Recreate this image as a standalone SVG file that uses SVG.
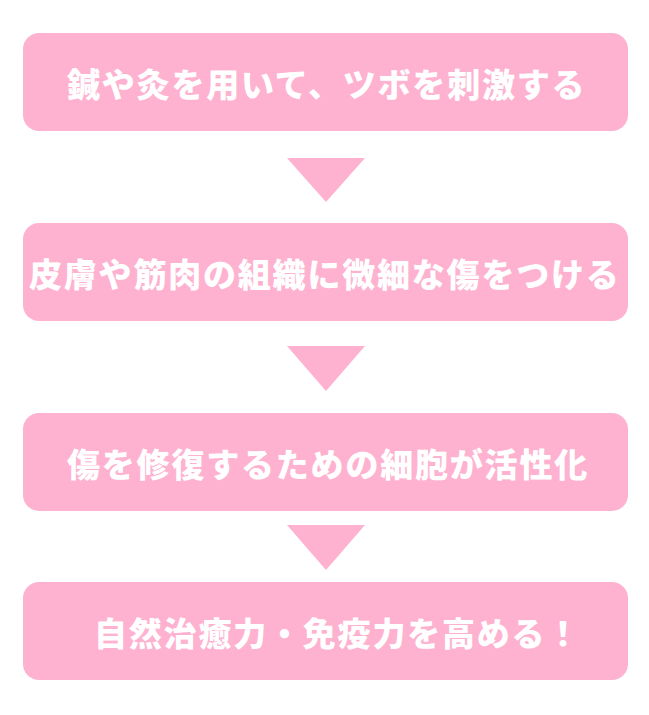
<svg xmlns="http://www.w3.org/2000/svg" width="649" height="715" viewBox="0 0 649 715">
<style>
.box{fill:#feb2d0}
.arrow{fill:#feb2d0}
.t{fill:#ffffff;font-family:"Noto Sans CJK JP","Noto Sans CJK SC",sans-serif;font-weight:900;font-size:33px;letter-spacing:1.8px;dominant-baseline:central}
</style>
<rect width="649" height="715" fill="#ffffff"/>
<g id="connectors">
<polygon class="arrow" points="287,158 365,158 326,202"/>
<polygon class="arrow" points="287,346 365,346 326,391"/>
<polygon class="arrow" points="287,525 365,525 326,570"/>
</g>
<g id="node1">
<rect class="box" x="23" y="33" width="605" height="98" rx="16"/>
<text class="t" x="67" y="83">鍼や灸を用いて、ツボを刺激する</text>
</g>
<g id="node2">
<rect class="box" x="23" y="223" width="605" height="98" rx="16"/>
<text class="t" x="29" y="273">皮膚や筋肉の組織に微細な傷をつける</text>
</g>
<g id="node3">
<rect class="box" x="23" y="413" width="605" height="98" rx="16"/>
<text class="t" x="67" y="463">傷を修復するための細胞が活性化</text>
</g>
<g id="node4">
<rect class="box" x="23" y="582" width="605" height="98" rx="16"/>
<text class="t" x="94" y="632">自然治癒力・免疫力を高める！</text>
</g>
</svg>
